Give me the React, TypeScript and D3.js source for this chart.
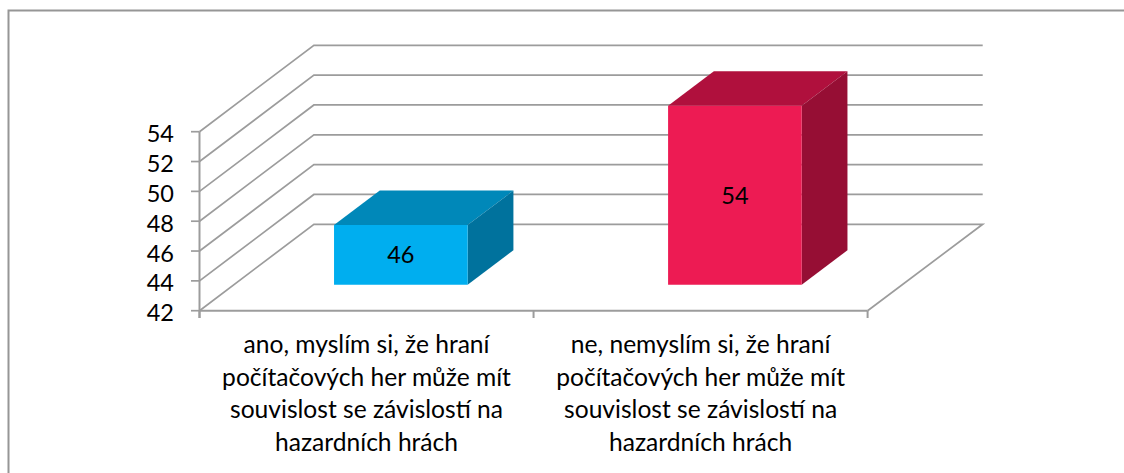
import React from "react";
import * as d3 from "d3";

const categories = [
  ["ano, myslím si, že hraní", "počítačových her může mít", "souvislost se závislostí na", "hazardních hrách"],
  ["ne, nemyslím si, že hraní", "počítačových her může mít", "souvislost se závislostí na", "hazardních hrách"],
];
const values = [46, 54];
const yTicks = [42, 44, 46, 48, 50, 52, 54];
const frontColors = ["#00AEEF", "#ED1B53"];
const topColors = ["#0088B9", "#B0103D"];
const sideColors = ["#00729D", "#960E34"];

const W = 1124, H = 473;
const FONT = "Lato, Carlito, Calibri, sans-serif";
const LINE = "#9c9c9c";

const y = d3.scaleLinear().domain([42, 54]).range([310.7, 131.7]);
const x = d3.scaleBand<number>().domain([0, 1]).range([199.5, 867.6]).paddingInner(0).paddingOuter(0);
// depth axis: 0 = front of floor, 1 = back wall
const depthX = d3.scaleLinear().domain([0, 1]).range([0, 114.4]);
const depthY = d3.scaleLinear().domain([0, 1]).range([0, -86.4]);
const P = (px: number, py: number, d: number): [number, number] => [px + depthX(d), py + depthY(d)];
const poly = d3.line<[number, number]>();

export default function App() {
  const base = 42;
  const d0 = 0.3, d1 = 0.7;
  const bw = x.bandwidth() * 0.4;
  return (
    <svg width={W} height={H} style={{ position: "absolute", left: 0, top: 0, background: "#fff" }} fontFamily={FONT}>
      <rect x={8.5} y={10.5} width={W + 20} height={H + 20} fill="#fff" stroke="#969696" strokeWidth={2} />
      {yTicks.map((t) => (
        <path
          key={t}
          d={poly([P(199.5, y(t), 0), P(199.5, y(t), 1), [982.7, y(t) + depthY(1)]]) || ""}
          fill="none"
          stroke={LINE}
          strokeWidth={t === 42 ? 0 : 1.7}
        />
      ))}
      <path
        d={poly([[199.5, y(42)], P(199.5, y(42), 1), [982.7, y(42) + depthY(1)], [867.6, y(42)]]) || ""}
        fill="none"
        stroke={LINE}
        strokeWidth={1.7}
      />
      <line x1={199.5} x2={867.6} y1={y(42)} y2={y(42)} stroke={LINE} strokeWidth={2} />
      <line x1={199.5} x2={199.5} y1={y(54)} y2={318} stroke={LINE} strokeWidth={2} />
      {yTicks.map((t) => (
        <g key={t}>
          <line x1={191} x2={199.5} y1={y(t)} y2={y(t)} stroke={LINE} strokeWidth={1.7} />
          <text x={174} y={y(t) + 10.5} textAnchor="end" fontSize={23.5} fill="#000">{t}</text>
        </g>
      ))}
      {[0, 1, 2].map((i) => {
        const px = 199.5 + i * x.step();
        return <line key={i} x1={px} x2={px} y1={y(42)} y2={318} stroke={LINE} strokeWidth={2} />;
      })}
      {values.map((v, i) => {
        const cx = x(i)! + x.bandwidth() / 2;
        const l = cx - bw / 2, r = cx + bw / 2;
        const t = y(v), b = y(base);
        const front = [P(l, t, d0), P(r, t, d0), P(r, b, d0), P(l, b, d0)] as [number, number][];
        const top = [P(l, t, d0), P(l, t, d1), P(r, t, d1), P(r, t, d0)] as [number, number][];
        const side = [P(r, t, d0), P(r, t, d1), P(r, b, d1), P(r, b, d0)] as [number, number][];
        const c = P(cx, (t + b) / 2, d0);
        return (
          <g key={i}>
            <path d={(poly(top) || "") + "Z"} fill={topColors[i]} />
            <path d={(poly(side) || "") + "Z"} fill={sideColors[i]} />
            <path d={(poly(front) || "") + "Z"} fill={frontColors[i]} />
            <text x={c[0]} y={c[1] + 8.5} textAnchor="middle" fontSize={23.5} fill="#000">{v}</text>
          </g>
        );
      })}
      {categories.map((lines, i) => {
        const cx = x(i)! + x.bandwidth() / 2;
        return lines.map((s, j) => (
          <text key={j} x={cx} y={353 + j * 32.7} textAnchor="middle" fontSize={24.6} fill="#000">{s}</text>
        ));
      })}
    </svg>
  );
}
